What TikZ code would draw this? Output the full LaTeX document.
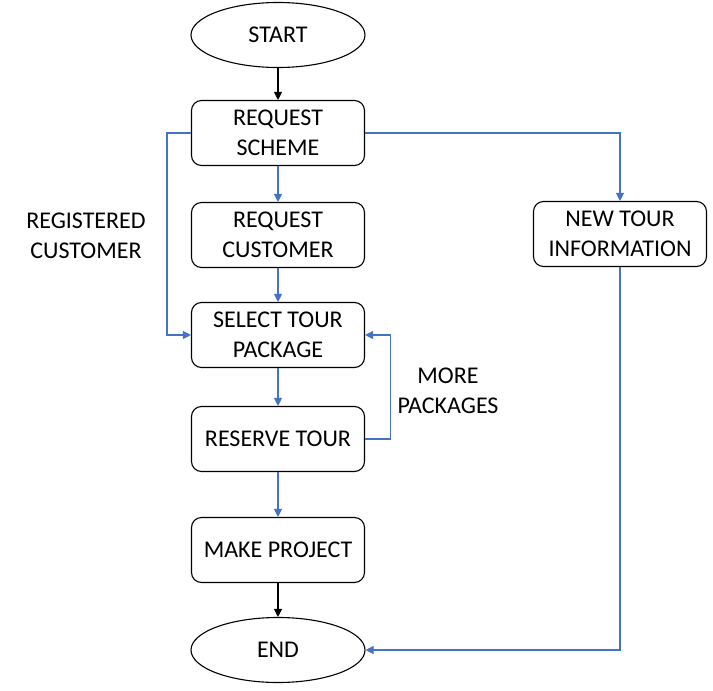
\documentclass[tikz,border=0pt]{standalone}
\usepackage{fontspec}
\setmainfont{Carlito}
\usetikzlibrary{arrows.meta,shapes.geometric}
\definecolor{linkblue}{RGB}{68,114,196}
\tikzset{
  box/.style={draw,rounded corners=10pt,line width=1.1pt,minimum width=173pt,minimum height=65pt,align=center,font=\fontsize{24}{30}\selectfont},
  oval/.style={draw,ellipse,line width=1.1pt,minimum width=174pt,minimum height=65pt,font=\fontsize{24}{30}\selectfont},
  lbl/.style={align=center,font=\fontsize{24}{30}\selectfont},
  link/.style={line width=1.1pt,-{Triangle[length=8pt,width=8pt]}},
  bluelink/.style={link,linkblue}
}
\begin{document}
\begin{tikzpicture}[x=1pt,y=-1pt]
  \useasboundingbox (0,0) rectangle (713,691);
  \node[oval] (start) at (278, 35) {START};
  \node[box] (scheme) at (278, 133) {REQUEST\\SCHEME};
  \node[box] (customer) at (278, 235) {REQUEST\\CUSTOMER};
  \node[box] (select) at (278, 335) {SELECT TOUR\\PACKAGE};
  \node[box] (reserve) at (278, 439) {RESERVE TOUR};
  \node[box] (make) at (278, 550) {MAKE PROJECT};
  \node[oval] (end) at (278, 650) {END};
  \node[box] (newtour) at (620, 234) {NEW TOUR\\INFORMATION};

  \node[lbl] (registered) at (86, 236) {REGISTERED\\CUSTOMER};
  \node[lbl] (more) at (448, 391) {MORE\\PACKAGES};

  \draw[link] (start) -- (scheme);
  \draw[bluelink] (scheme) -- (customer);
  \draw[bluelink] (customer) -- (select);
  \draw[bluelink] (select) -- (reserve);
  \draw[bluelink] (reserve) -- (make);
  \draw[link] (make) -- (end);

  \draw[bluelink] (scheme.west) -- ++(-24, 0) |- (select.west);
  \draw[bluelink] (scheme.east) -| (newtour.north);
  \draw[bluelink] (newtour.south) |- (end.east);
  \draw[bluelink] (reserve.east) -- ++(25, 0) |- (select.east);
\end{tikzpicture}
\end{document}
